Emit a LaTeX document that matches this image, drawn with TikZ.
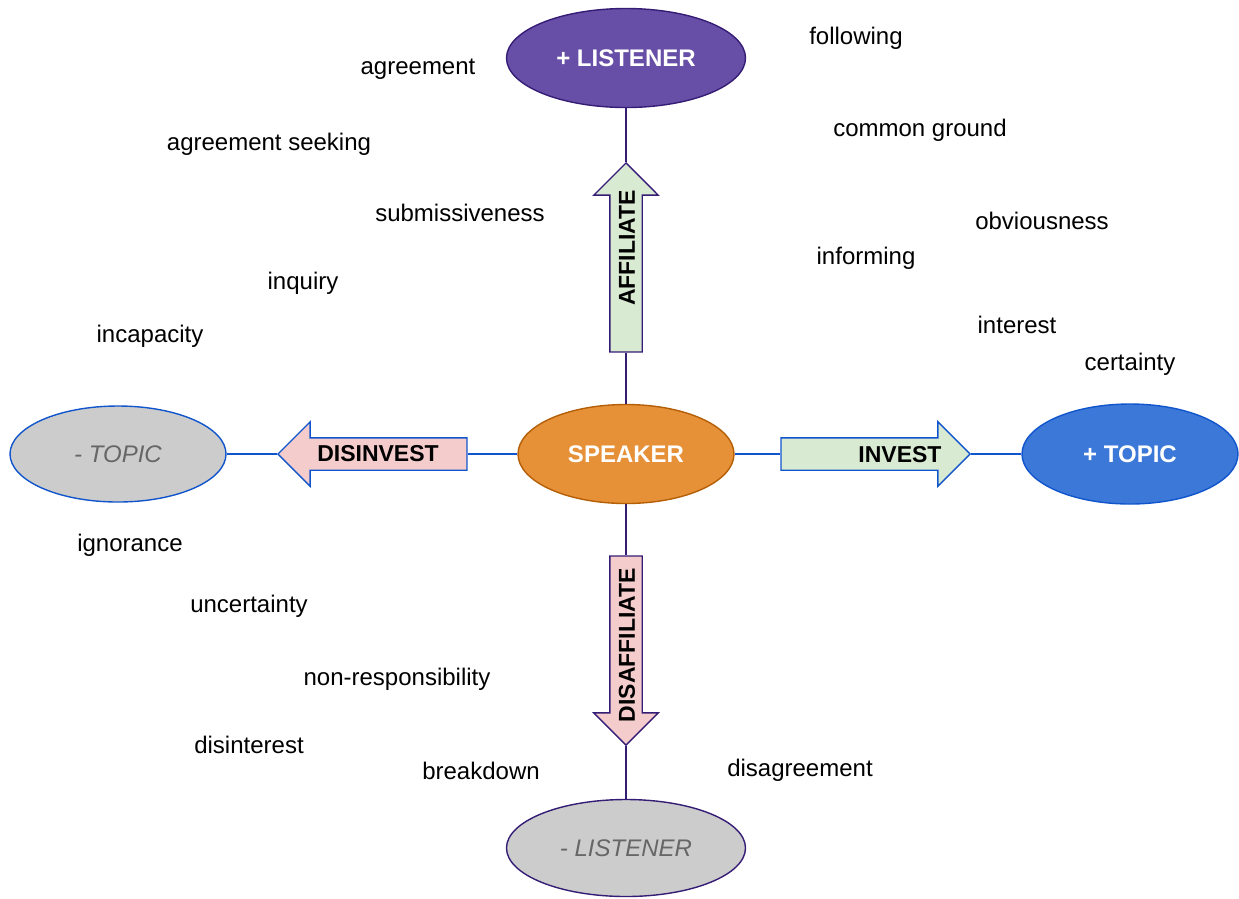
\documentclass[tikz,border=0pt]{standalone}
\usepackage{fontspec}
\setmainfont{Liberation Sans}
\usetikzlibrary{shapes.geometric,shapes.arrows}
\definecolor{lpurple}{HTML}{674EA7}
\definecolor{dpurple}{HTML}{351C75}
\definecolor{sorange}{HTML}{E69138}
\definecolor{dorange}{HTML}{B45F06}
\definecolor{tblue}{HTML}{3C78D8}
\definecolor{dblue}{HTML}{1155CC}
\definecolor{lgrey}{HTML}{CCCCCC}
\definecolor{tgrey}{HTML}{666666}
\definecolor{lgreen}{HTML}{D9EAD3}
\definecolor{lpink}{HTML}{F4CCCC}
\tikzset{
  oval/.style={ellipse, inner sep=0pt, line width=1.4pt, minimum width=216pt, minimum height=99pt},
  poslab/.style={text=white, font=\fontsize{24}{29}\selectfont\bfseries},
  neglab/.style={text=tgrey, font=\fontsize{24}{29}\selectfont\itshape},
  blockarrow/.style={single arrow, line width=1.4pt, inner sep=0pt, text width=31pt, text height=15.5pt, text depth=15.5pt, minimum height=189pt, minimum width=63pt, single arrow head extend=16pt},
  arrowtext/.style={font=\fontsize{23}{28}\selectfont\bfseries, text=black, inner sep=0pt},
  word/.style={font=\fontsize{24}{29}\selectfont, text=black, inner sep=0pt},
  vline/.style={dpurple, line width=1.4pt},
  hline/.style={dblue, line width=1.4pt}
}
\begin{document}
\begin{tikzpicture}[x=1pt, y=-1pt]
\useasboundingbox (0,0) rectangle (1239,898);
% ellipses
\node[oval, fill=lpurple, draw=dpurple, minimum width=239pt, poslab] (lis) at (626,58) {+ LISTENER};
\node[oval, fill=sorange, draw=dorange, poslab] (spk) at (626,454) {SPEAKER};
\node[oval, fill=tblue, draw=dblue, minimum height=100pt, poslab] (ptop) at (1130,454) {+ TOPIC};
\node[oval, fill=lgrey, draw=dblue, minimum height=96pt, neglab] (ntop) at (118,454) {- TOPIC};
\node[oval, fill=lgrey, draw=dpurple, minimum width=239pt, minimum height=97pt, neglab] (nlis) at (626,848) {- LISTENER};
% block arrows
\node[blockarrow, fill=lgreen, draw=dpurple, shape border rotate=90, anchor=tip] (aff) at (626,162) {};
\node[blockarrow, fill=lpink, draw=dpurple, shape border rotate=270, anchor=tip] (dis) at (626,746) {};
\node[blockarrow, fill=lgreen, draw=dblue, anchor=tip] (inv) at (971,454) {};
\node[blockarrow, fill=lpink, draw=dblue, shape border rotate=180, anchor=tip] (disinv) at (277,454) {};
\node[arrowtext, rotate=90] (afft) at (627,248) {AFFILIATE};
\node[arrowtext, rotate=90] (dist) at (627,645) {DISAFFILIATE};
\node[arrowtext] (invt) at (900,455) {INVEST};
\node[arrowtext] (disinvt) at (378,454) {DISINVEST};
% connectors
\draw[vline] (lis.south) -- (aff.tip);
\draw[vline] (aff.tail) -- (spk.north);
\draw[vline] (spk.south) -- (dis.tail);
\draw[vline] (dis.tip) -- (nlis.north);
\draw[hline] (spk.east) -- (inv.tail);
\draw[hline] (inv.tip) -- (ptop.west);
\draw[hline] (spk.west) -- (disinv.tail);
\draw[hline] (disinv.tip) -- (ntop.east);
% words
\node[word] (w1) at (418,69) {agreement};
\node[word] (w2) at (269,144) {agreement seeking};
\node[word] (w3) at (460,213) {submissiveness};
\node[word] (w4) at (303,283) {inquiry};
\node[word] (w5) at (150,336) {incapacity};
\node[word] (w6) at (856,38) {following};
\node[word] (w7) at (920,130) {common ground};
\node[word] (w8) at (1042,221) {obviousness};
\node[word] (w9) at (866,258) {informing};
\node[word] (w10) at (1017,325) {interest};
\node[word] (w11) at (1130,364) {certainty};
\node[word] (w12) at (130,545) {ignorance};
\node[word] (w13) at (249,606) {uncertainty};
\node[word] (w14) at (397,679) {non-responsibility};
\node[word] (w15) at (249,745) {disinterest};
\node[word] (w16) at (481,771) {breakdown};
\node[word] (w17) at (800,770) {disagreement};
\end{tikzpicture}
\end{document}
